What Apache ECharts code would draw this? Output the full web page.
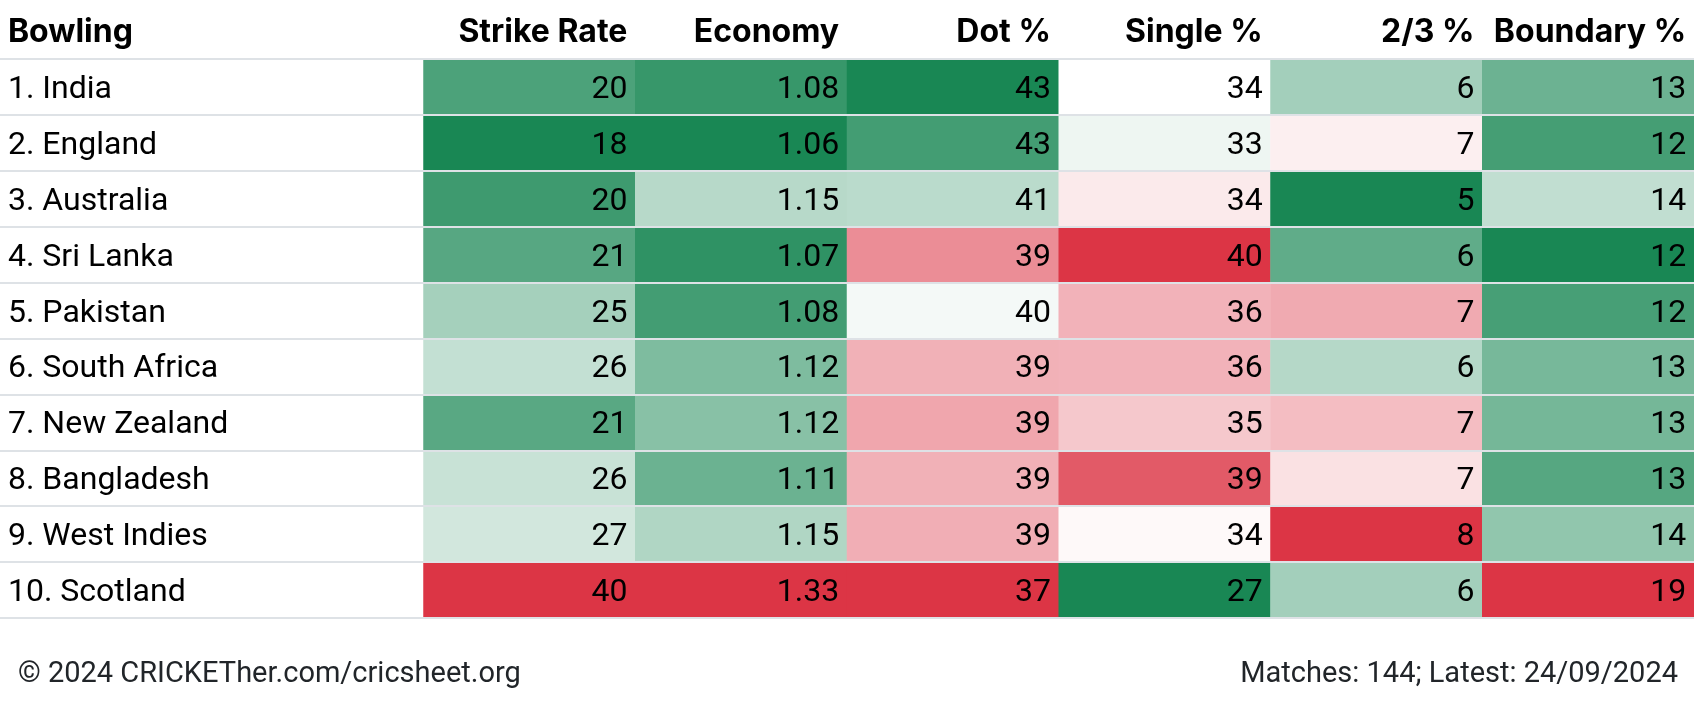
<!DOCTYPE html>
<html>
<head>
<meta charset="utf-8">
<script src="https://cdn.jsdelivr.net/npm/echarts@6/dist/echarts.min.js"></script>
<style>
html,body{margin:0;padding:0;background:#fff;}
#chart{width:1694px;height:711px;}
</style>
</head>
<body>
<div id="chart"></div>
<script>
// ---- data ----
const teams = ['1. India','2. England','3. Australia','4. Sri Lanka','5. Pakistan','6. South Africa','7. New Zealand','8. Bangladesh','9. West Indies','10. Scotland'];
const columns = ['Strike Rate','Economy','Dot %','Single %','2/3 %','Boundary %'];
const rowHeader = 'Bowling';
// estimated underlying values (displayed rounded)
const strikeRate  = [20.3, 17.8, 19.6, 20.8, 24.6, 26.1, 20.9, 26.3, 26.8, 40.2];
const economy     = [1.076, 1.058, 1.152, 1.071, 1.083, 1.118, 1.124, 1.107, 1.148, 1.332];
const dotPct      = [43.4, 42.84, 41.23, 38.55, 40.45, 39.1, 38.94, 39.1, 39.06, 37.2];
const singlePct   = [33.6, 33.1, 34.3, 40.2, 36.1, 36.1, 35.4, 39.0, 33.8, 27.0];
const twoThreePct = [6.04, 6.71, 5.2, 5.63, 7.19, 6.15, 7.06, 6.81, 8.0, 6.04];
const boundaryPct = [12.97, 12.32, 14.37, 11.6, 12.36, 13.16, 13.12, 12.6, 13.58, 19.2];
const decimals = [0, 2, 0, 0, 0, 0];
const higherIsBetter = [false, false, true, false, false, false];
const footerLeft = '\u00A9 2024 CRICKETher.com/cricsheet.org';
const footerRight = 'Matches: 144; Latest: 24/09/2024';

// ---- chart ----
const seriesValues = [strikeRate, economy, dotPct, singlePct, twoThreePct, boundaryPct];
const GREEN = '#198754', WHITE = '#ffffff', RED = '#dc3545';
const FONT = 'Roboto, "Noto Sans", sans-serif';
const HEAD_FONT = 'Inter, Roboto, sans-serif';
const xCats = [rowHeader, ''].concat(columns);

const series = seriesValues.map((vals, c) => ({
  type: 'heatmap',
  data: vals.map((v, r) => [c + 2, r, v]),
  label: {
    show: true, position: ['96.2%', '55.4%'], align: 'right', verticalAlign: 'middle',
    color: '#000', fontSize: 32, fontFamily: FONT,
    formatter: p => p.value[2].toFixed(decimals[c])
  },
  itemStyle: { borderWidth: 0 },
  emphasis: { disabled: true }
}));

const visualMaps = seriesValues.map((vals, c) => ({
  type: 'continuous', show: false, seriesIndex: c, dimension: 2,
  min: Math.min(...vals), max: Math.max(...vals),
  inRange: { color: higherIsBetter[c] ? [RED, WHITE, GREEN] : [GREEN, WHITE, RED] }
}));

const headStyle = { width: 196, fontSize: 32, fontWeight: 'bold', fontFamily: HEAD_FONT, color: '#000' };

const chart = echarts.init(document.getElementById('chart'), null, { renderer: 'canvas' });
chart.setOption({
  animation: false,
  backgroundColor: '#fff',
  grid: { left: 0, right: 0, top: 59, bottom: 93, containLabel: false },
  title: [
    { text: footerLeft, left: 18, top: 660, padding: 0,
      textStyle: { fontSize: 29, fontWeight: 'normal', color: '#212529', fontFamily: FONT } },
    { text: footerRight, right: 16, top: 660, padding: 0,
      textStyle: { fontSize: 29, fontWeight: 'normal', color: '#212529', fontFamily: FONT } }
  ],
  xAxis: {
    type: 'category', position: 'top', data: xCats,
    axisLine: { show: false }, axisTick: { show: false }, splitLine: { show: false },
    axisLabel: {
      interval: 0, margin: 11,
      formatter: (v, i) => v === '' ? '' : (i === 0 ? '{l|' + v + '}' : '{r|' + v + '}'),
      rich: {
        l: Object.assign({ align: 'left' }, headStyle),
        r: Object.assign({ align: 'right' }, headStyle)
      }
    }
  },
  yAxis: {
    type: 'category', inverse: true, data: teams, z: 5,
    axisLine: { show: false }, axisTick: { show: false },
    axisLabel: {
      inside: true, margin: 8,
      formatter: v => '{t|' + v + '}',
      rich: { t: { fontSize: 32, color: '#000', fontFamily: FONT, padding: [6, 0, 0, 0] } }
    },
    splitLine: { show: true, lineStyle: { color: '#dee2e6', width: 2 } }
  },
  visualMap: visualMaps,
  series: series
});
</script>
</body>
</html>
